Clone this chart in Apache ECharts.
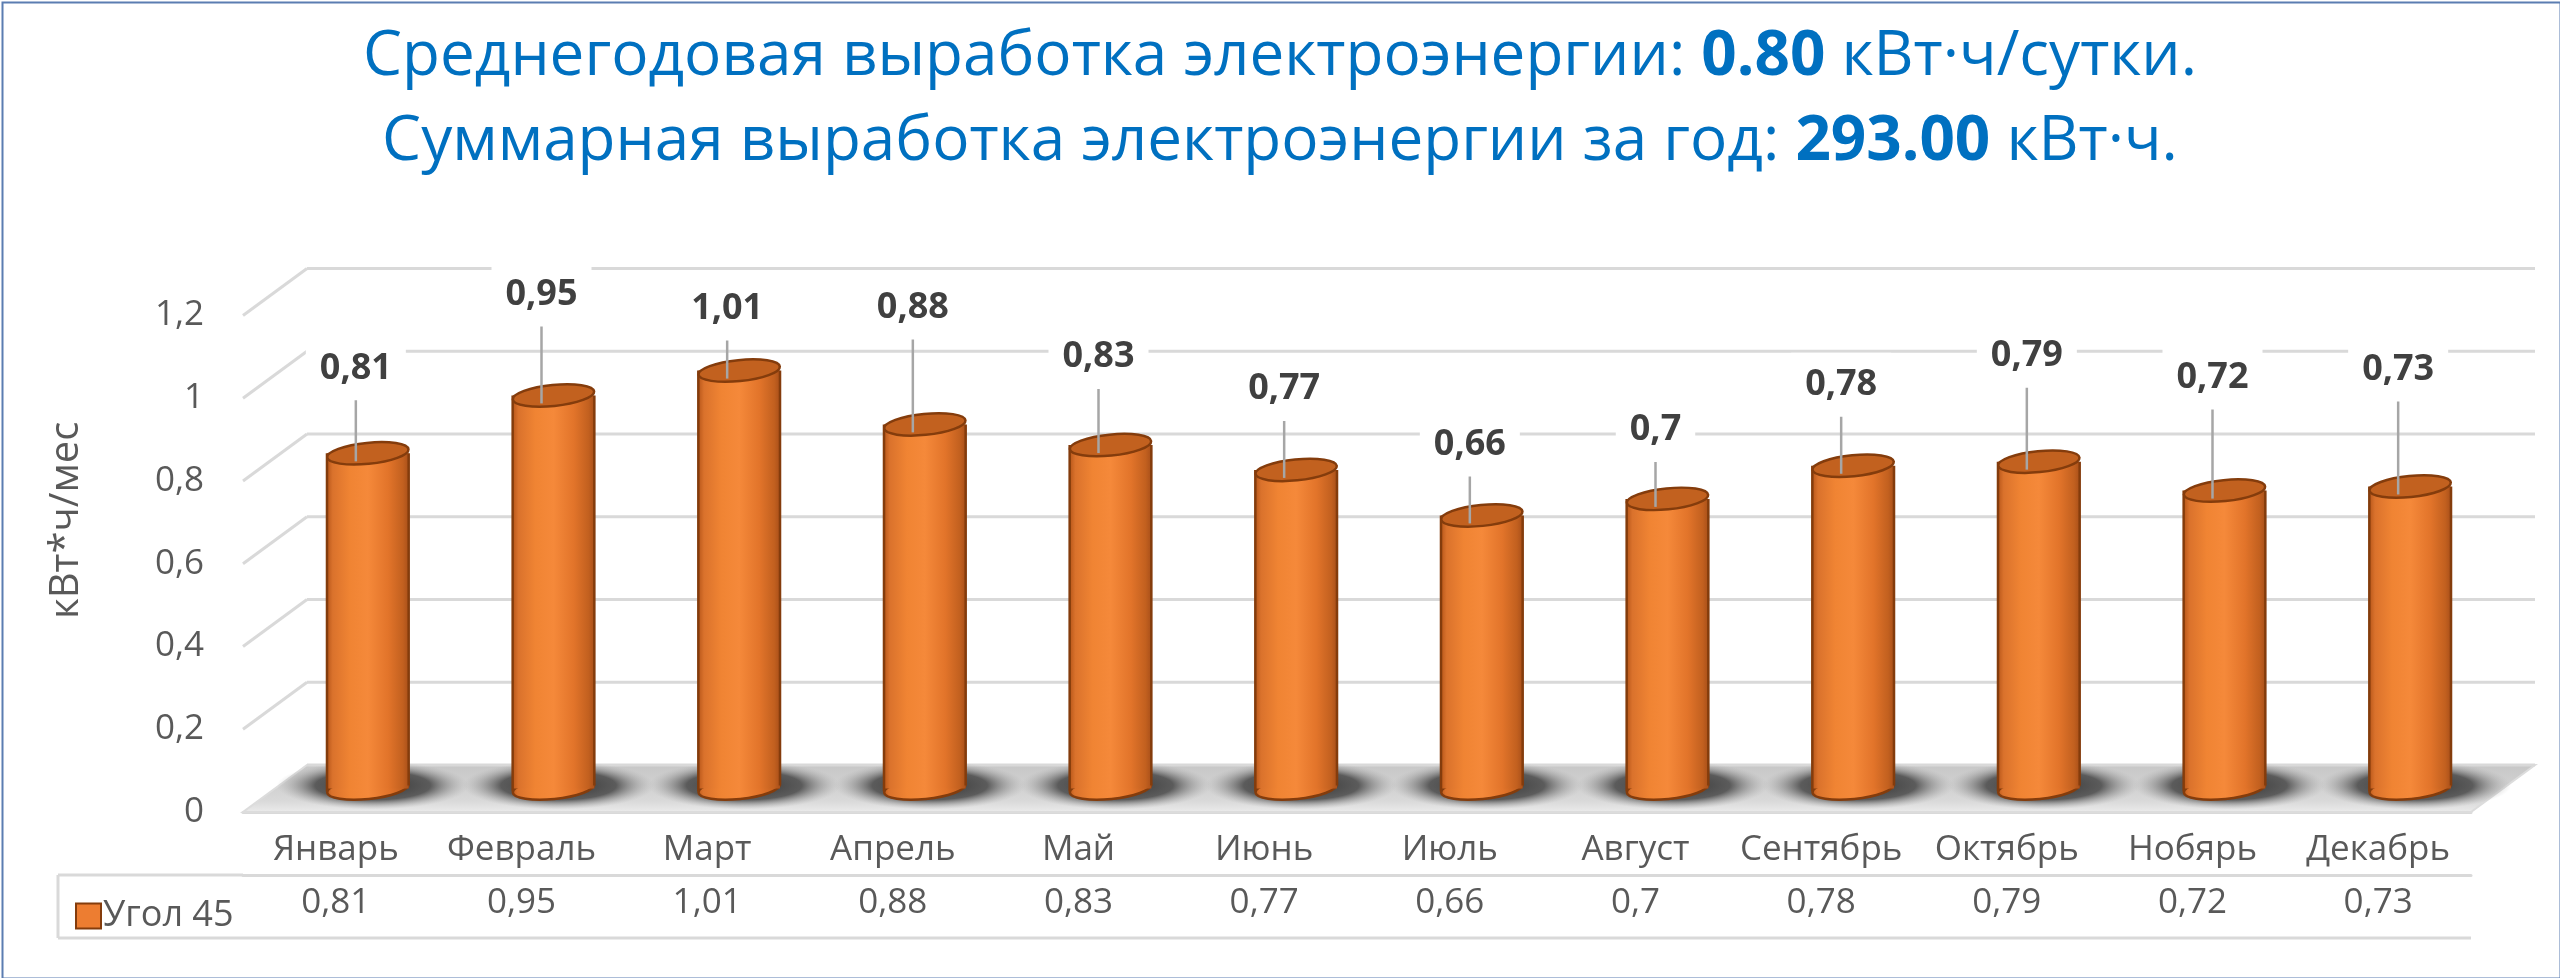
<!DOCTYPE html>
<html>
<head>
<meta charset="utf-8">
<title>Выработка электроэнергии</title>
<script src="https://cdn.jsdelivr.net/npm/echarts@6/dist/echarts.min.js"></script>
<style>
  html, body { margin: 0; padding: 0; background: #fff; }
  #chart { width: 2560px; height: 978px; }
</style>
</head>
<body>
<div id="chart"></div>
<script>
// data
var months = ['Январь', 'Февраль', 'Март', 'Апрель', 'Май', 'Июнь', 'Июль', 'Август', 'Сентябрь', 'Октябрь', 'Нобярь', 'Декабрь'];
var seriesName = 'Угол 45';
var values = [0.81, 0.95, 1.01, 0.88, 0.83, 0.77, 0.66, 0.7, 0.78, 0.79, 0.72, 0.73];
var yTicks = [0, 0.2, 0.4, 0.6, 0.8, 1, 1.2];
var avgPerDay = '0.80';
var totalPerYear = '293.00';

// layout (pseudo 3d): half depth offset between middle plane and front / back plane
var DX = 32, DY = 23.5;
var PLOT_W = 2228, PLOT_H = 496.5;
var FRONT_LEFT = 243, FRONT_TOP = 315.5;
var ROW_H = 63, LEGEND_W = 185;
// how far each data label was dragged above its bar (px)
var labelLift = [85, 101, 62, 117, 88, 81, 71, 69, 81, 106, 113, 117];

var FONT = '"Open Sans", "Noto Sans", sans-serif';
var GRID_COLOR = '#d9d9d9';
var TEXT_COLOR = '#595959';
var EDGE = '#843C0C';

function comma(v) {
  return String(v).replace('.', ',');
}

var chart = echarts.init(document.getElementById('chart'), null, { renderer: 'canvas' });

// back wall, left wall and floor
function renderWalls(params, api) {
  var v = api.value(1);
  var cs = params.coordSys;
  var y = api.coord([0, v])[1];
  var backL = cs.x + DX, backR = cs.x + cs.width + DX;
  var frontL = cs.x - DX, frontR = cs.x + cs.width - DX;
  var line = { stroke: GRID_COLOR, lineWidth: 3 };
  var children = [];
  if (v === 0) {
    children.push({
      type: 'polygon',
      shape: { points: [[frontL, y + DY], [frontR, y + DY], [backR, y - DY], [backL, y - DY]] },
      style: {
        fill: new echarts.graphic.LinearGradient(0, 0, 0, 1, [
          { offset: 0, color: '#c6c6c6' },
          { offset: 0.75, color: '#d9d9d9' },
          { offset: 1, color: '#ececec' }
        ]),
        stroke: '#dcdcdc', lineWidth: 2
      }
    });
  } else {
    children.push({ type: 'line', shape: { x1: frontL, y1: y + DY, x2: backL, y2: y - DY }, style: line });
  }
  children.push({ type: 'line', shape: { x1: backL, y1: y - DY, x2: backR, y2: y - DY }, style: line });
  return { type: 'group', children: children };
}

// soft shadow under every cylinder
function renderShadow(params, api) {
  var base = api.coord([api.value(0), 0]);
  return {
    type: 'circle',
    shape: { cx: 0, cy: 0, r: 24 },
    x: base[0] + 5,
    y: base[1] - 3,
    scaleX: 4,
    scaleY: 1,
    style: {
      fill: new echarts.graphic.RadialGradient(0.5, 0.5, 0.5, [
        { offset: 0, color: 'rgba(50,50,50,1)' },
        { offset: 0.6, color: 'rgba(75,75,75,0.88)' },
        { offset: 1, color: 'rgba(170,170,170,0)' }
      ])
    }
  };
}

// cylinder + data label with leader line
function renderCylinder(params, api) {
  var i = api.value(0), v = api.value(1);
  var top = api.coord([i, v]);
  var base = api.coord([i, 0]);
  var cx = top[0];
  var w = api.size([1, 0])[0] * 0.44;
  var rx = w / 2, ry = 10.5;
  var tilt = 0.1;
  var bodyFill = new echarts.graphic.LinearGradient(0, 0, 1, 0, [
    { offset: 0, color: '#B8571A' },
    { offset: 0.07, color: '#DA722C' },
    { offset: 0.28, color: '#F08433' },
    { offset: 0.5, color: '#F5893A' },
    { offset: 0.75, color: '#E2742A' },
    { offset: 0.93, color: '#C2601F' },
    { offset: 1, color: '#A9501A' }
  ]);
  var labelX = cx - 12;
  var labelY = top[1] - labelLift[i];
  return {
    type: 'group',
    children: [
      {
        type: 'ellipse',
        shape: { cx: cx, cy: base[1], rx: rx, ry: ry },
        rotation: tilt, originX: cx, originY: base[1],
        style: { fill: bodyFill, stroke: EDGE, lineWidth: 2.5 }
      },
      {
        type: 'rect',
        shape: { x: cx - rx, y: top[1], width: w, height: base[1] - top[1] },
        style: { fill: bodyFill }
      },
      { type: 'line', shape: { x1: cx - rx, y1: top[1], x2: cx - rx, y2: base[1] + 3 }, style: { stroke: EDGE, lineWidth: 2.5 } },
      { type: 'line', shape: { x1: cx + rx, y1: top[1], x2: cx + rx, y2: base[1] - 3 }, style: { stroke: EDGE, lineWidth: 2.5 } },
      {
        type: 'ellipse',
        shape: { cx: cx, cy: top[1], rx: rx, ry: ry },
        rotation: tilt, originX: cx, originY: top[1],
        style: { fill: '#C2611F', stroke: EDGE, lineWidth: 2.5 }
      },
      {
        type: 'line',
        shape: { x1: labelX, y1: labelY + 30, x2: cx - 12, y2: top[1] + 8 },
        style: { stroke: '#A6A6A6', lineWidth: 2.5 }
      },
      {
        type: 'text',
        x: labelX,
        y: labelY,
        style: {
          text: comma(v),
          align: 'center',
          verticalAlign: 'middle',
          font: 'bold 36px ' + FONT,
          fill: '#404040',
          backgroundColor: '#fff',
          padding: [18, 14, 10, 14]
        }
      }
    ]
  };
}

// data table borders that the axes do not draw
function renderTableFrame(params, api) {
  var cs = params.coordSys;
  var y0 = cs.y + cs.height;
  var l = cs.x - LEGEND_W, r = cs.x + cs.width;
  var line = { stroke: GRID_COLOR, lineWidth: 3 };
  return {
    type: 'group',
    children: [
      { type: 'line', shape: { x1: l, y1: y0 + ROW_H, x2: cs.x, y2: y0 + ROW_H }, style: line },
      { type: 'line', shape: { x1: l, y1: y0 + 2 * ROW_H, x2: r, y2: y0 + 2 * ROW_H }, style: line },
      { type: 'line', shape: { x1: l, y1: y0 + ROW_H, x2: l, y2: y0 + 2 * ROW_H }, style: line }
    ]
  };
}

var points = values.map(function (v, i) { return [i, v]; });
var tickPoints = yTicks.map(function (v) { return [0, v]; });

var titleRich = {
  a: { fontSize: 62, color: '#0070C0', fontFamily: FONT, fontWeight: 'normal' },
  b: { fontSize: 62, color: '#0070C0', fontFamily: FONT, fontWeight: 'bold' }
};

var option = {
  animation: false,
  backgroundColor: '#fff',
  title: [
    {
      text: '{a|Среднегодовая выработка электроэнергии: }{b|' + avgPerDay + '}{a| кВт·ч/сутки.}',
      left: 'center', top: 21,
      textStyle: { fontWeight: 'normal', rich: titleRich }
    },
    {
      text: '{a|Суммарная выработка электроэнергии за год: }{b|' + totalPerYear + '}{a| кВт·ч.}',
      left: 'center', top: 106,
      textStyle: { fontWeight: 'normal', rich: titleRich }
    }
  ],
  legend: {
    data: [{ name: seriesName, icon: 'rect', itemStyle: { color: '#ED7D31', borderColor: EDGE, borderWidth: 2 } }],
    left: FRONT_LEFT - LEGEND_W + 12,
    top: FRONT_TOP + PLOT_H + ROW_H + 18,
    itemWidth: 25,
    itemHeight: 25,
    itemGap: 4,
    selectedMode: false,
    textStyle: { fontSize: 36, color: TEXT_COLOR, fontFamily: FONT, padding: [0, 0, 0, -3] }
  },
  grid: [
    { left: FRONT_LEFT + DX, top: FRONT_TOP - DY, width: PLOT_W, height: PLOT_H },
    { left: FRONT_LEFT, top: FRONT_TOP, width: PLOT_W, height: PLOT_H }
  ],
  xAxis: [
    { gridIndex: 0, type: 'category', data: months, show: false },
    {
      gridIndex: 1, type: 'category', data: months, position: 'bottom',
      axisLine: { lineStyle: { color: GRID_COLOR, width: 3 } },
      axisTick: { interval: 0, length: 2 * ROW_H, lineStyle: { color: GRID_COLOR, width: 3 } },
      axisLabel: { interval: 0, margin: 21, fontSize: 35, color: TEXT_COLOR, fontFamily: FONT }
    },
    {
      gridIndex: 1, type: 'category', data: values.map(comma), position: 'bottom', offset: ROW_H,
      axisLine: { lineStyle: { color: GRID_COLOR, width: 3 } },
      axisTick: { show: false },
      axisLabel: { interval: 0, margin: 11, fontSize: 35, color: TEXT_COLOR, fontFamily: FONT }
    }
  ],
  yAxis: [
    {
      gridIndex: 0, type: 'value', min: 0, max: 1.2, interval: 0.2,
      axisLabel: { show: false }, axisLine: { show: false }, axisTick: { show: false }, splitLine: { show: false },
      name: 'кВт*ч/мес', nameLocation: 'middle', nameGap: 188,
      nameTextStyle: { fontSize: 40, color: TEXT_COLOR, fontFamily: FONT, padding: [0, 0, 0, 40] }
    },
    {
      gridIndex: 1, type: 'value', min: 0, max: 1.2, interval: 0.2,
      axisLine: { show: false }, axisTick: { show: false }, splitLine: { show: false },
      axisLabel: {
        margin: 39, fontSize: 35, color: TEXT_COLOR, fontFamily: FONT,
        formatter: function (v) { return comma(+v.toFixed(1)); }
      }
    }
  ],
  series: [
    { type: 'custom', name: 'walls', xAxisIndex: 0, yAxisIndex: 0, z: 1, clip: false, silent: true, renderItem: renderWalls, data: tickPoints },
    { type: 'custom', name: 'shadows', xAxisIndex: 0, yAxisIndex: 0, z: 2, clip: false, silent: true, renderItem: renderShadow, data: points },
    {
      type: 'custom', name: seriesName, xAxisIndex: 0, yAxisIndex: 0, z: 3, clip: false,
      itemStyle: { color: '#ED7D31' },
      renderItem: renderCylinder, data: points
    },
    { type: 'custom', name: 'table', xAxisIndex: 1, yAxisIndex: 1, z: 1, clip: false, silent: true, renderItem: renderTableFrame, data: [[0, 0]] }
  ],
  graphic: [
    {
      type: 'rect', left: 0, top: 0, silent: true,
      shape: { width: 2558, height: 976 },
      style: { fill: null, stroke: '#5B7DB1', lineWidth: 2 }
    }
  ]
};

chart.setOption(option);
window.addEventListener('resize', chart.resize);
</script>
</body>
</html>
